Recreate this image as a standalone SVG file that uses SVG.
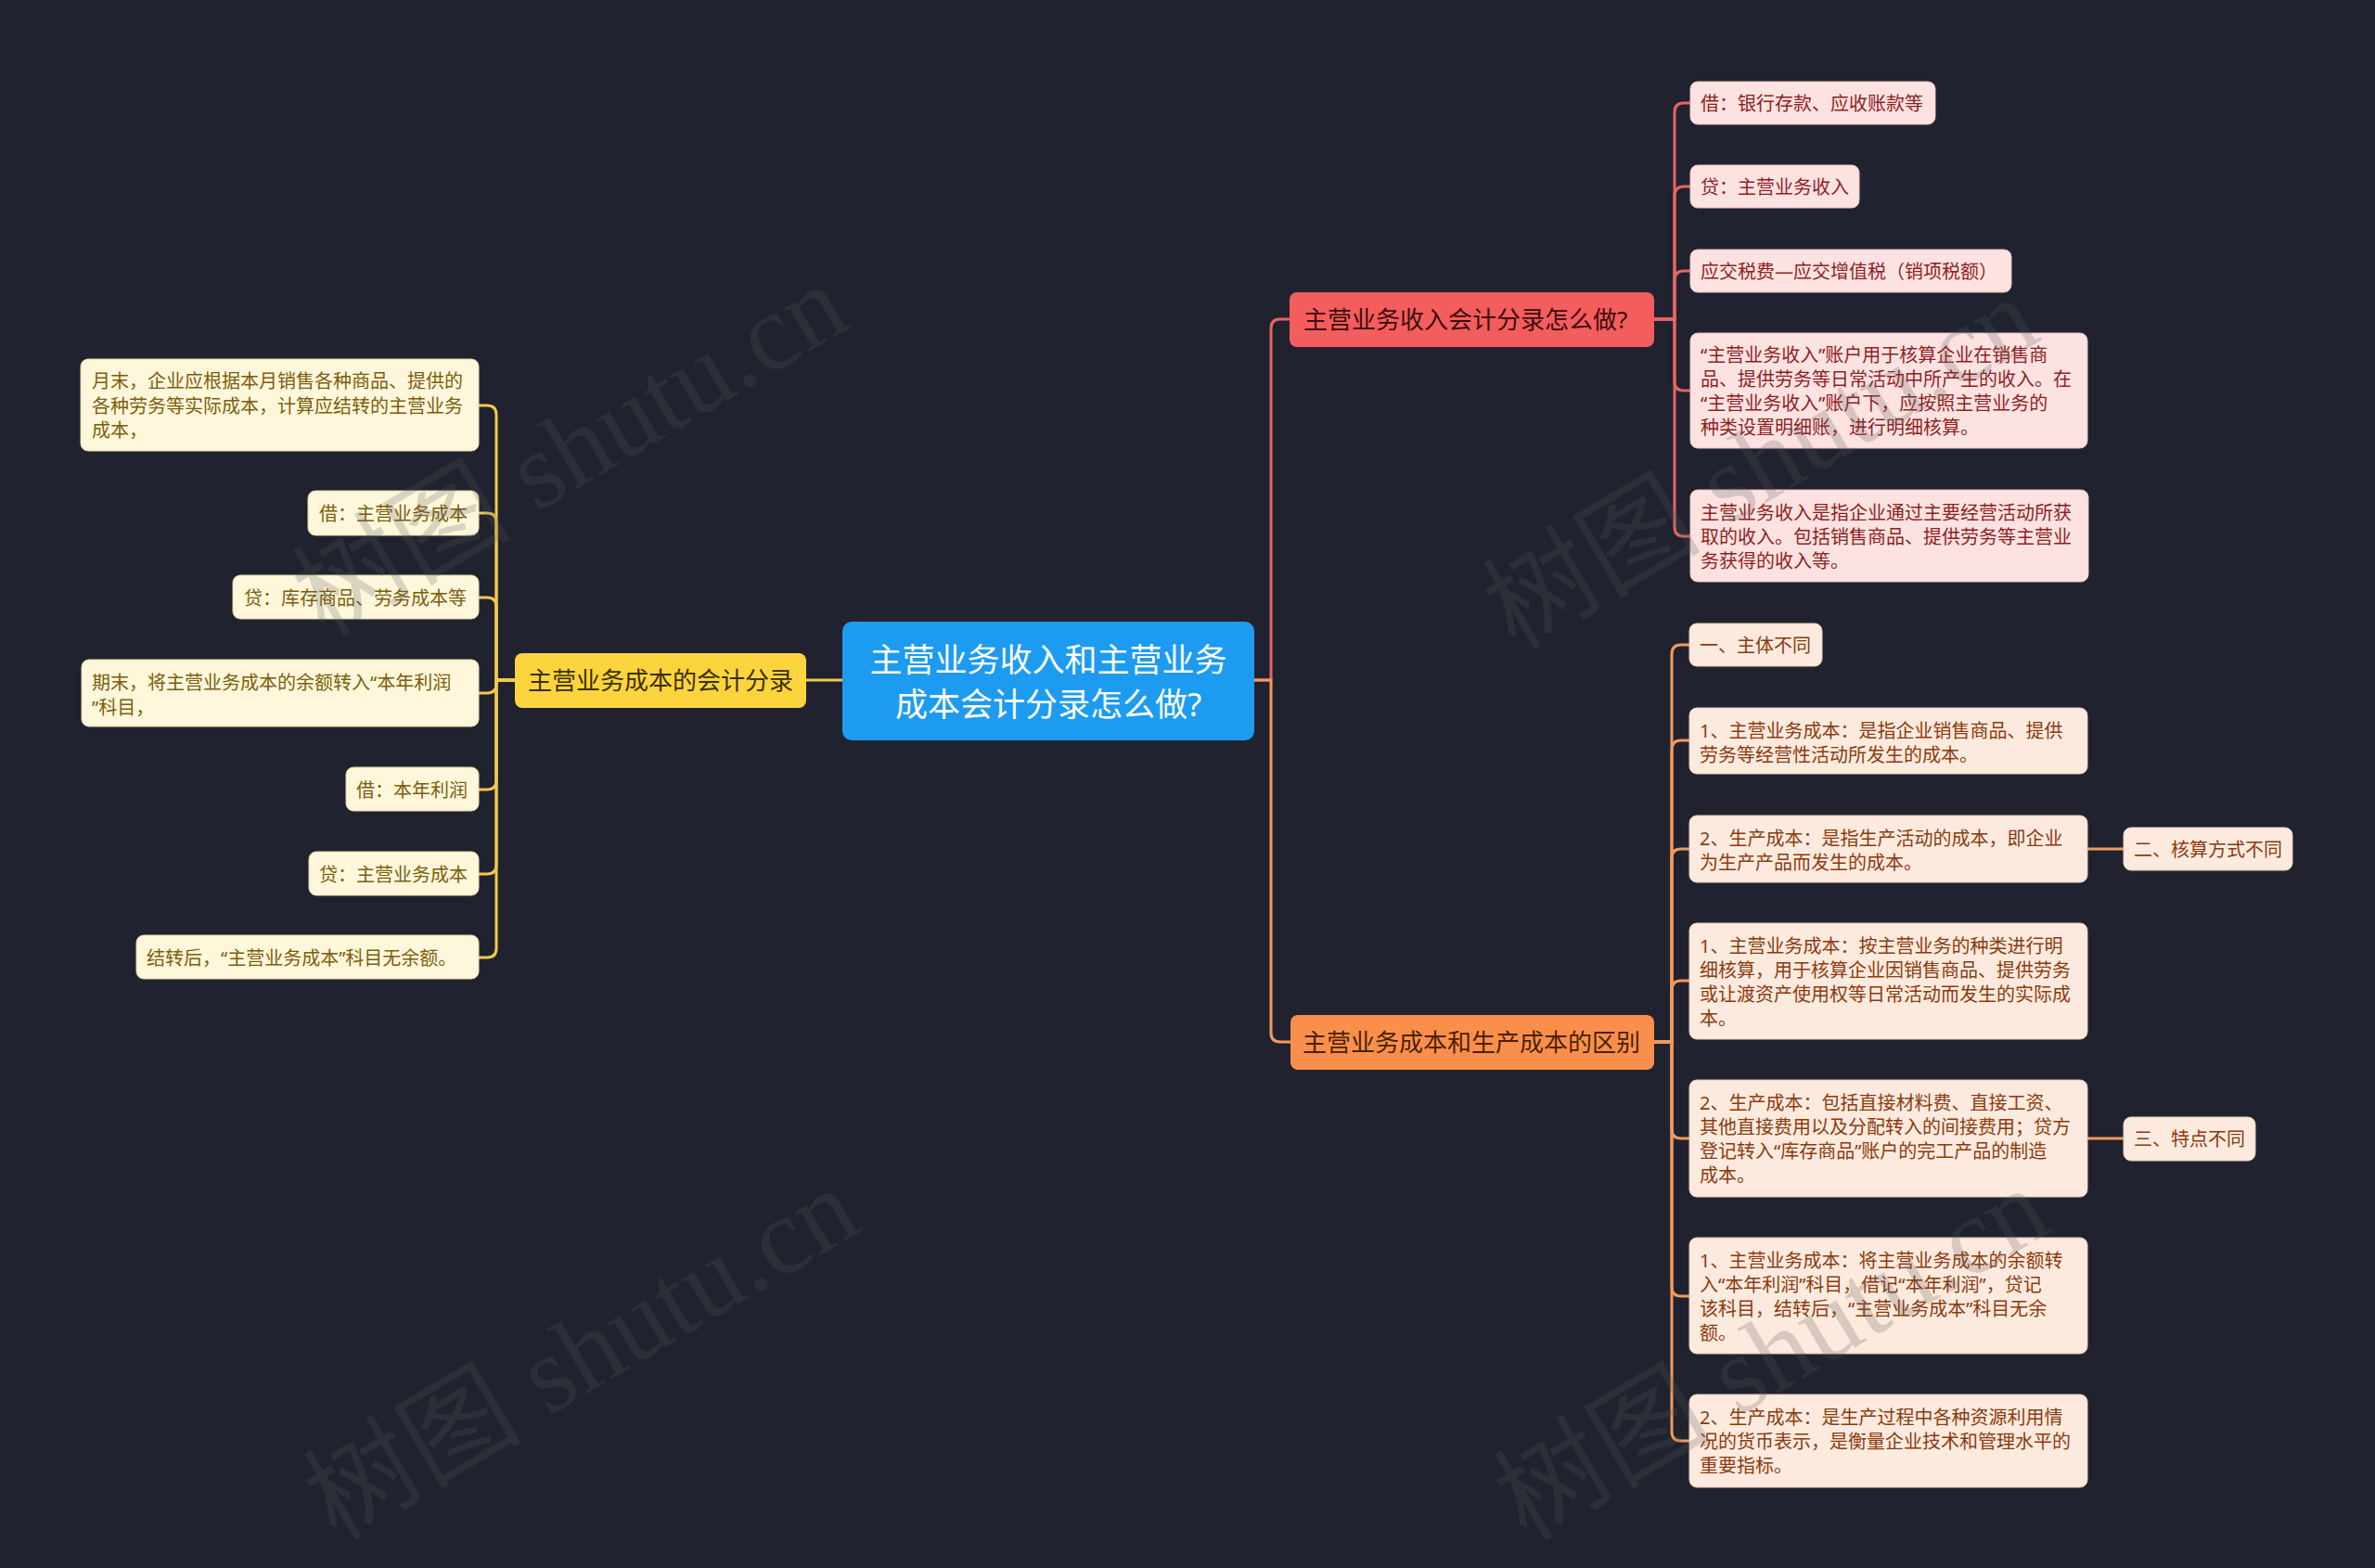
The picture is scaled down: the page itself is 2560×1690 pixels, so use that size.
<svg xmlns="http://www.w3.org/2000/svg" width="2560" height="1690" viewBox="0 0 2560 1690">
<style>
text{font-family:"Noto Sans","Noto Sans CJK SC",sans-serif;dominant-baseline:central}
.leaf{font-size:20px}
.br{font-size:26px}
.yl rect{fill:#fef7dc;stroke:#e6d9a8;stroke-width:1}
.yl text{fill:#7c5e0a}
.rl rect{fill:#fde2e2;stroke:#e8c2c2;stroke-width:1}
.rl text{fill:#8e1f1f}
.ol rect{fill:#fdeade;stroke:#e8cdb9;stroke-width:1}
.ol text{fill:#8a3b0e}
.cy{fill:none;stroke:#f2c94c;stroke-width:3}
.cr{fill:none;stroke:#e76565;stroke-width:3}
.co{fill:none;stroke:#f39a5c;stroke-width:3}
.wm{font-family:"Liberation Serif","Noto Sans CJK SC",serif;font-size:118px;fill:#5a5a5a;opacity:0.22;dominant-baseline:auto}
</style>
<rect width="2560" height="1690" fill="#20232f"/>

<g id="connectors">
<path class="cy" d="M908,733 H869"/>
<path class="cy" d="M555,733 H535 V447 Q535,437 525,437 H516"/>
<path class="cy" d="M555,733 H535 V563 Q535,553 525,553 H516"/>
<path class="cy" d="M555,733 H535 V654 Q535,644 525,644 H516"/>
<path class="cy" d="M555,733 H535 V737 Q535,747 525,747 H516"/>
<path class="cy" d="M555,733 H535 V841 Q535,851 525,851 H516"/>
<path class="cy" d="M555,733 H535 V932 Q535,942 525,942 H516"/>
<path class="cy" d="M555,733 H535 V1022 Q535,1032 525,1032 H516"/>
<path class="cr" d="M1352,733 H1370 V354 Q1370,344 1380,344 H1390"/>
<path class="co" d="M1352,733 H1370 V1113 Q1370,1123 1380,1123 H1391"/>
<path class="cr" d="M1783,344 H1805 V121 Q1805,111 1815,111 H1822"/>
<path class="cr" d="M1783,344 H1805 V211 Q1805,201 1815,201 H1822"/>
<path class="cr" d="M1783,344 H1805 V302 Q1805,292 1815,292 H1822"/>
<path class="cr" d="M1783,344 H1805 V411 Q1805,421 1815,421 H1822"/>
<path class="cr" d="M1783,344 H1805 V568 Q1805,578 1815,578 H1822"/>
<path class="co" d="M1783,1123 H1802 V705 Q1802,695 1812,695 H1821"/>
<path class="co" d="M1783,1123 H1802 V808 Q1802,798 1812,798 H1821"/>
<path class="co" d="M1783,1123 H1802 V925 Q1802,915 1812,915 H1821"/>
<path class="co" d="M1783,1123 H1802 V1067 Q1802,1057 1812,1057 H1821"/>
<path class="co" d="M1783,1123 H1802 V1217 Q1802,1227 1812,1227 H1821"/>
<path class="co" d="M1783,1123 H1802 V1387 Q1802,1397 1812,1397 H1821"/>
<path class="co" d="M1783,1123 H1802 V1543 Q1802,1553 1812,1553 H1821"/>
<path class="co" d="M2250,915 H2289"/>
<path class="co" d="M2250,1227 H2289"/>
</g>

<g id="root">
<rect x="908" y="670" width="444" height="128" rx="10" fill="#1d9bf0"/>
<text x="1130" y="710" font-size="35" fill="#ffffff" text-anchor="middle">主营业务收入和主营业务</text>
<text x="1130" y="758" font-size="35" fill="#ffffff" text-anchor="middle">成本会计分录怎么做?</text>
</g>

<g id="branch-cost">
<rect x="555" y="704" width="314" height="59" rx="8" fill="#fcd43d"/>
<text class="br" x="569" y="733" fill="#3b2f00">主营业务成本的会计分录</text>
</g>
<g id="branch-income">
<rect x="1390" y="315" width="393" height="59" rx="8" fill="#f45d5d"/>
<text class="br" x="1405" y="344" fill="#3d0c0c">主营业务收入会计分录怎么做?</text>
</g>
<g id="branch-diff">
<rect x="1391" y="1094" width="392" height="59" rx="8" fill="#fa8f4c"/>
<text class="br" x="1404" y="1123" fill="#4a1f00">主营业务成本和生产成本的区别</text>
</g>

<g id="l1" class="yl leaf">
<rect x="87" y="387" width="429" height="99" rx="8"/>
<text x="99" y="410">月末，企业应根据本月销售各种商品、提供的</text>
<text x="99" y="437">各种劳务等实际成本，计算应结转的主营业务</text>
<text x="99" y="463">成本，</text>
</g>
<g id="l2" class="yl leaf">
<rect x="332" y="529" width="184" height="48" rx="8"/>
<text x="344" y="553">借：主营业务成本</text>
</g>
<g id="l3" class="yl leaf">
<rect x="251" y="620" width="265" height="47" rx="8"/>
<text x="263" y="644">贷：库存商品、劳务成本等</text>
</g>
<g id="l4" class="yl leaf">
<rect x="88" y="711" width="428" height="72" rx="8"/>
<text x="99" y="735">期末，将主营业务成本的余额转入“本年利润</text>
<text x="99" y="762">”科目，</text>
</g>
<g id="l5" class="yl leaf">
<rect x="373" y="827" width="143" height="47" rx="8"/>
<text x="384" y="851">借：本年利润</text>
</g>
<g id="l6" class="yl leaf">
<rect x="333" y="918" width="183" height="47" rx="8"/>
<text x="344" y="942">贷：主营业务成本</text>
</g>
<g id="l7" class="yl leaf">
<rect x="147" y="1008" width="369" height="47" rx="8"/>
<text x="158" y="1032">结转后，“主营业务成本”科目无余额。</text>
</g>

<g id="r1" class="rl leaf">
<rect x="1822" y="88" width="264" height="46" rx="8"/>
<text x="1833" y="111">借：银行存款、应收账款等</text>
</g>
<g id="r2" class="rl leaf">
<rect x="1822" y="178" width="182" height="46" rx="8"/>
<text x="1833" y="201">贷：主营业务收入</text>
</g>
<g id="r3" class="rl leaf">
<rect x="1822" y="269" width="346" height="46" rx="8"/>
<text x="1833" y="292">应交税费—应交增值税（销项税额）</text>
</g>
<g id="r4" class="rl leaf">
<rect x="1822" y="359" width="428" height="124" rx="8"/>
<text x="1833" y="382">“主营业务收入”账户用于核算企业在销售商</text>
<text x="1833" y="408">品、提供劳务等日常活动中所产生的收入。在</text>
<text x="1833" y="434">“主营业务收入”账户下，应按照主营业务的</text>
<text x="1833" y="460">种类设置明细账，进行明细核算。</text>
</g>
<g id="r5" class="rl leaf">
<rect x="1822" y="528" width="429" height="99" rx="8"/>
<text x="1833" y="552">主营业务收入是指企业通过主要经营活动所获</text>
<text x="1833" y="578">取的收入。包括销售商品、提供劳务等主营业</text>
<text x="1833" y="604">务获得的收入等。</text>
</g>

<g id="o1" class="ol leaf">
<rect x="1821" y="672" width="143" height="46" rx="8"/>
<text x="1832" y="695">一、主体不同</text>
</g>
<g id="o2" class="ol leaf">
<rect x="1821" y="763" width="429" height="71" rx="8"/>
<text x="1832" y="787">1、主营业务成本：是指企业销售商品、提供</text>
<text x="1832" y="813">劳务等经营性活动所发生的成本。</text>
</g>
<g id="o3" class="ol leaf">
<rect x="1821" y="879" width="429" height="72" rx="8"/>
<text x="1832" y="903">2、生产成本：是指生产活动的成本，即企业</text>
<text x="1832" y="929">为生产产品而发生的成本。</text>
</g>
<g id="o3a" class="ol leaf">
<rect x="2289" y="892" width="182" height="46" rx="8"/>
<text x="2300" y="915">二、核算方式不同</text>
</g>
<g id="o4" class="ol leaf">
<rect x="1821" y="995" width="429" height="125" rx="8"/>
<text x="1832" y="1019">1、主营业务成本：按主营业务的种类进行明</text>
<text x="1832" y="1045">细核算，用于核算企业因销售商品、提供劳务</text>
<text x="1832" y="1071">或让渡资产使用权等日常活动而发生的实际成</text>
<text x="1832" y="1097">本。</text>
</g>
<g id="o5" class="ol leaf">
<rect x="1821" y="1164" width="429" height="126" rx="8"/>
<text x="1832" y="1188">2、生产成本：包括直接材料费、直接工资、</text>
<text x="1832" y="1214">其他直接费用以及分配转入的间接费用；贷方</text>
<text x="1832" y="1240">登记转入“库存商品”账户的完工产品的制造</text>
<text x="1832" y="1266">成本。</text>
</g>
<g id="o5a" class="ol leaf">
<rect x="2289" y="1204" width="142" height="47" rx="8"/>
<text x="2300" y="1227">三、特点不同</text>
</g>
<g id="o6" class="ol leaf">
<rect x="1821" y="1334" width="429" height="125" rx="8"/>
<text x="1832" y="1358">1、主营业务成本：将主营业务成本的余额转</text>
<text x="1832" y="1384">入“本年利润”科目，借记“本年利润”，贷记</text>
<text x="1832" y="1410">该科目，结转后，“主营业务成本”科目无余</text>
<text x="1832" y="1436">额。</text>
</g>
<g id="o7" class="ol leaf">
<rect x="1821" y="1503" width="429" height="100" rx="8"/>
<text x="1832" y="1527">2、生产成本：是生产过程中各种资源利用情</text>
<text x="1832" y="1553">况的货币表示，是衡量企业技术和管理水平的</text>
<text x="1832" y="1579">重要指标。</text>
</g>

<g id="watermark">
<text class="wm" transform="translate(350,688) rotate(-30.6)">树图 shutu.cn</text>
<text class="wm" transform="translate(1633,702) rotate(-30.6)">树图 shutu.cn</text>
<text class="wm" transform="translate(362,1662) rotate(-30.6)">树图 shutu.cn</text>
<text class="wm" transform="translate(1645,1662) rotate(-30.6)">树图 shutu.cn</text>
</g>
</svg>
